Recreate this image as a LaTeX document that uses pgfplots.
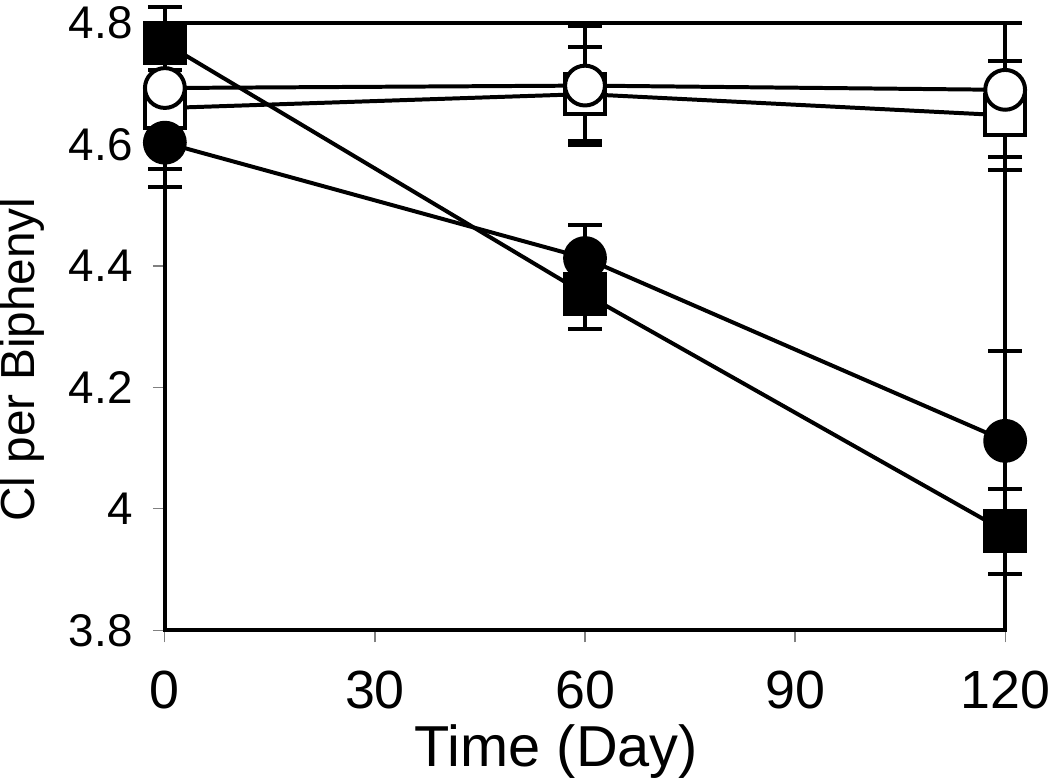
\documentclass[border=0pt]{standalone}
\usepackage{pgfplots}
\pgfplotsset{compat=1.18}
\usepackage{fontspec}
\setmainfont{Liberation Sans}
\begin{document}
\begin{tikzpicture}
\begin{axis}[
  scale only axis, width=422pt, height=305pt,
  xmin=0, xmax=120, ymin=3.8, ymax=4.8,
  xtick={0,30,60,90,120},
  ytick={3.8,4.0,4.2,4.4,4.6,4.8},
  yticklabels={3.8,4,4.2,4.4,4.6,4.8},
  xticklabels={0,30,60,90,120},
  tick align=outside, tick pos=left,
  axis line style={line width=2pt},
  major tick style={gray, line width=0.6pt},
  major tick length=6pt,
  x tick label style={font=\fontsize{27}{27}\selectfont, inner sep=0pt, anchor=north, yshift=-14pt},
  y tick label style={font=\fontsize{23}{23}\selectfont, inner sep=0pt, anchor=east, xshift=-10pt},
  xlabel={Time (Day)}, ylabel={Cl per Biphenyl},
  xlabel style={font=\fontsize{29}{29}\selectfont, inner sep=0pt, at={(axis description cs:0.466,0)}, anchor=north, yshift=-47pt},
  ylabel style={font=\fontsize{24}{24}\selectfont, inner sep=0pt, at={(axis description cs:0,0.446)}, anchor=north, yshift=83pt},
  clip=false,
]
\addplot[only marks, mark=square*, mark size=10pt, mark options={fill=white, draw=black, line width=2pt}] coordinates {(0,4.66)(60,4.683)(120,4.648)};
\addplot[only marks, mark=*, mark size=10pt, mark options={fill=white, draw=black, line width=2pt}] coordinates {(0,4.693)(60,4.697)(120,4.69)};
\addplot[only marks, mark=*, mark size=10pt, mark options={fill=black, draw=black, line width=2pt}] coordinates {(0,4.603)(60,4.413)(120,4.112)};
\addplot[only marks, mark=square*, mark size=10pt, mark options={fill=black, draw=black, line width=2pt}] coordinates {(0,4.767)(60,4.354)(120,3.963)};
\pgfplotsset{ebar/.style={black, line width=2pt, mark=none, error bars/.cd, y dir=both, y explicit, error mark=-, error bar style={line width=2pt, black}, error mark options={mark size=8.5pt, line width=2pt, black, rotate=90}}}
\addplot[ebar] coordinates {(0,4.66) +- (0,0.10) (60,4.683) +- (0,0.078) (120,4.648) +- (0,0.09)};
\addplot[ebar] coordinates {(0,4.693) +- (0,0.03) (60,4.697) +- (0,0.098) (120,4.69) +- (0,0.11)};
\addplot[ebar] coordinates {(0,4.603) +- (0,0.073) (60,4.413) +- (0,0.055) (120,4.112) +- (0,0.148)};
\addplot[ebar] coordinates {(0,4.767) +- (0,0.06) (60,4.354) +- (0,0.058) (120,3.963) +- (0,0.07)};
\end{axis}
\end{tikzpicture}
\end{document}
